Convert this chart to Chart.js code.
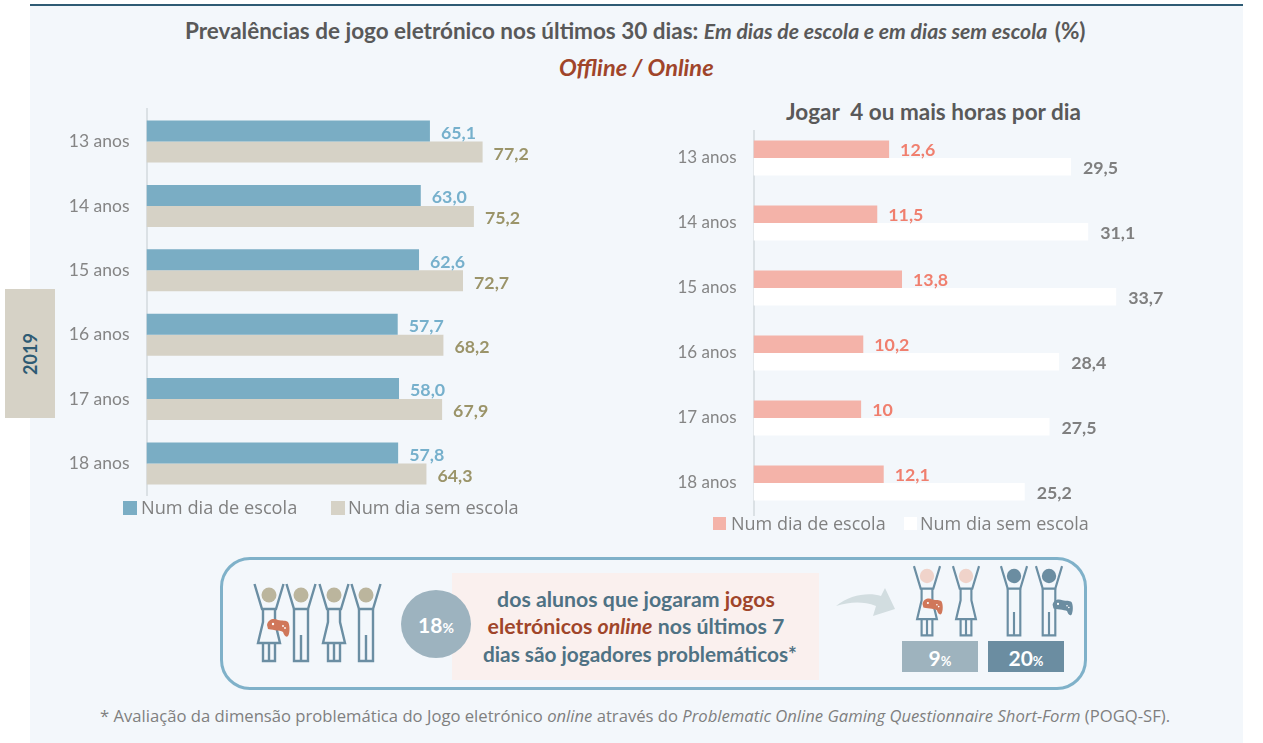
<!DOCTYPE html>
<html lang="pt"><head><meta charset="utf-8">
<script src="https://cdn.jsdelivr.net/npm/chart.js@4"></script>
<style>
html,body{margin:0;padding:0;background:#fff;width:1263px;height:743px;overflow:hidden;font-family:Lato,sans-serif}
#bg{position:absolute;left:30px;top:4px;width:1213px;height:739px;background:#f3f7fb;border-top:2px solid #2e5b74;box-sizing:border-box}
.t{position:absolute;white-space:nowrap;line-height:1}
canvas{position:absolute}
.sw{position:absolute}
</style></head><body>
<div id="bg"></div>
<div class="t" id="title" style="left:185px;top:20px;font-weight:700;font-size:22.5px;color:#595959">Prevalências de jogo eletrónico nos últimos 30 dias: <i style="font-size:21.2px">Em dias de escola e em dias sem escola</i> <span style="margin-left:2px">(%)</span></div>
<div class="t" style="left:559px;top:56px;font-weight:700;font-style:italic;font-size:23.6px;color:#a0452a">Offline / Online</div>
<div class="t" style="left:786px;top:101px;font-weight:700;font-size:22.5px;color:#595959">Jogar&nbsp; 4 ou mais horas por dia</div>
<div style="position:absolute;left:5px;top:289px;width:50px;height:129px;background:#d6d2c6"></div>
<div class="t" style="left:30px;top:353.5px;font-weight:700;font-size:18px;color:#2e5b74;transform:translate(-50%,-50%) rotate(-90deg)">2019</div>
<canvas id="cL" width="551" height="426" style="left:30px;top:89px"></canvas>
<canvas id="cR" width="544" height="431" style="left:640px;top:105px"></canvas>
<div style="position:absolute;left:751px;top:122px;width:5px;height:8px;background:#f3f7fb"></div>
<div id="legends"></div>

<div style="position:absolute;left:220px;top:557px;width:867px;height:133px;box-sizing:border-box;border:3px solid #7fb1c9;border-radius:30px"></div>
<div style="position:absolute;left:452px;top:573px;width:367px;height:107px;background:#faf0ee"></div>
<div style="position:absolute;left:401px;top:590px;width:70px;height:68px;border-radius:50%;background:#9db3bf"></div>
<div class="t" style="left:436px;top:624px;transform:translate(-50%,-50%);font-weight:700;font-size:21px;color:#fff">18<span style="font-size:14px">%</span></div>
<div class="t" style="left:636px;top:600px;transform:translate(-50%,-50%);font-weight:700;font-size:21.3px;color:#4f7284">dos alunos que jogaram <span style="color:#a0452a">jogos</span></div>
<div class="t" style="left:636px;top:627px;transform:translate(-50%,-50%);font-weight:700;font-size:21.3px;color:#a0452a">eletrónicos <i>online</i> <span style="color:#4f7284">nos últimos 7</span></div>
<div class="t" style="left:640px;top:654px;transform:translate(-50%,-50%);font-weight:700;font-size:20.8px;color:#4f7284">dias são jogadores problemáticos*</div>
<div style="position:absolute;left:902px;top:641px;width:76px;height:31px;background:#9eb3be"></div>
<div style="position:absolute;left:988px;top:641px;width:76px;height:31px;background:#6b8da1"></div>
<div class="t" style="left:940px;top:657px;transform:translate(-50%,-50%);font-weight:700;font-size:21px;color:#fff">9<span style="font-size:13px">%</span></div>
<div class="t" style="left:1026px;top:657px;transform:translate(-50%,-50%);font-weight:700;font-size:21px;color:#fff">20<span style="font-size:13px">%</span></div>
<div class="t" style="left:100px;top:708px;font-family:'Open Sans',sans-serif;font-size:16.65px;color:#7f7f7f">* Avaliação da dimensão problemática do Jogo eletrónico <i>online</i> através do <i>Problematic Online Gaming Questionnaire Short-Form</i> (POGQ-SF).</div>

<svg width="1263" height="743" style="position:absolute;left:0;top:0;pointer-events:none">
<defs>
<g id="arms" fill="none" stroke="#6b8ea3" stroke-width="2.4"><path d="M-14.5-11-7 14H7L14.5-11"/></g>
<g id="woman" fill="none" stroke="#6b8ea3" stroke-width="2.4"><use href="#arms"/><path d="M-6 14V27L-11 48H11L6 27V14M-6 48V66H6V48M0 48V66"/></g>
<g id="man" fill="none" stroke="#6b8ea3" stroke-width="2.4"><use href="#arms"/><path d="M-7 14V66H7V14M0 40V66"/></g>
<g id="pad"><path d="M-11-2C-10-8-4-9 0-7 4-6 8-7 10-5 12-2 12 6 10 9 8 11 6 8 5 5 2 3-8 3-10 2Z"/><g fill="#fff"><circle cx="-5" cy="-3" r="1.2"/><circle cx="5" cy="-1" r=".9"/><circle cx="7" cy="1" r=".9"/></g></g>
</defs>
<g transform="translate(269,595)"><use href="#woman"/><circle r="7.5" fill="#bbb59d"/><use href="#pad" transform="translate(9,32)" fill="#d0775a"/></g>
<g transform="translate(301,595)"><use href="#man"/><circle r="7.5" fill="#bbb59d"/></g>
<g transform="translate(334,595)"><use href="#woman"/><circle r="7.5" fill="#bbb59d"/></g>
<g transform="translate(366,595)"><use href="#man"/><circle r="7.5" fill="#bbb59d"/></g>
<g transform="translate(927,576) scale(.9)"><use href="#woman"/><circle r="8" fill="#f0d3ca"/><use href="#pad" transform="translate(6,33)" fill="#d0775a"/></g>
<g transform="translate(966,576) scale(.9)"><use href="#woman"/><circle r="8" fill="#f0d3ca"/></g>
<g transform="translate(1014,576) scale(.9)"><use href="#man"/><circle r="8" fill="#6b8da1"/></g>
<g transform="translate(1049,576) scale(.9)"><use href="#man"/><circle r="8" fill="#6b8da1"/><use href="#pad" transform="translate(15,34)" fill="#6b8da1"/></g>
<path d="M836 606C850 594 870 592 881 596L885 588 895 609 873 616 876 606C862 601 850 602 836 606Z" fill="#d2dde0"/>
</svg>

<script>
const categoriesLeft = ["13 anos","14 anos","15 anos","16 anos","17 anos","18 anos"];
const categoriesRight = ["13 anos","14 anos","15 anos","16 anos","17 anos","18 anos"];
const seriesNames = ["Num dia de escola","Num dia sem escola"];
const jogoEscola = [65.1,63.0,62.6,57.7,58.0,57.8];
const jogoSemEscola = [77.2,75.2,72.7,68.2,67.9,64.3];
const horasEscola = [12.6,11.5,13.8,10.2,10,12.1];
const horasSemEscola = [29.5,31.1,33.7,28.4,27.5,25.2];

Chart.defaults.font.family = "Lato, sans-serif";

const valueLabels = {
  id:'valueLabels',
  afterDatasetsDraw(chart,_,o){
    const c=chart.ctx;
    chart.data.datasets.forEach((ds,i)=>{
      chart.getDatasetMeta(i).data.forEach((el,j)=>{
        c.save();
        c.font='700 17.8px Lato, sans-serif';
        c.fillStyle=ds.labelColor;
        c.textAlign='left';c.textBaseline='middle';
        c.fillText(o.format(ds.data[j]),el.x+ds.labelGap,el.y+o.dy);
        c.restore();
      });
    });
  }
};
function make(id,cats,a,b,cols,labCols,gaps,opt){
  return new Chart(document.getElementById(id),{
    type:'bar',
    data:{labels:cats,datasets:[
      {label:seriesNames[0],data:a,backgroundColor:cols[0],labelColor:labCols[0],labelGap:gaps[0]},
      {label:seriesNames[1],data:b,backgroundColor:cols[1],labelColor:labCols[1],labelGap:gaps[1]}
    ]},
    plugins:[valueLabels],
    options:{
      indexAxis:'y',responsive:false,animation:false,devicePixelRatio:1,
      categoryPercentage:opt.cat,barPercentage:1,
      layout:{padding:{top:opt.padT,bottom:opt.padB,left:0,right:0}},
      plugins:{legend:{display:false},tooltip:{enabled:false},valueLabels:{format:opt.format,dy:opt.dy}},
      scales:{
        x:{display:false,min:0,max:opt.max},
        y:{
          afterFit(s){s.width=opt.axisW;},
          grid:{drawOnChartArea:false,drawTicks:true,tickLength:opt.tick,tickColor:'transparent'},
          border:{color:'#dbe1e5',width:2},
          ticks:{color:'#858585',padding:0,font:{size:opt.fs}}
        }
      }
    }
  });
}
make('cL',categoriesLeft,jogoEscola,jogoSemEscola,['#7aadc4','#d6d2c6'],['#76b0cc','#9b9469'],[11,11],
  {cat:.652,padT:20.3,padB:19.3,dy:2,max:99.8,axisW:116.5,tick:17,fs:17.5,format:v=>v.toFixed(1).replace('.',',')});
make('cR',categoriesRight,horasEscola,horasSemEscola,['#f4b3a9','#ffffff'],['#f07f6e','#7f7f7f'],[11,12],
  {cat:.54,padT:20.5,padB:20.5,dy:1,max:40,axisW:113.5,tick:17,fs:17,format:v=>String(v).replace('.',',')});

const legendSpec=[
  {x:[123,331],tx:[141,348],y:507.5,c:['#7aadc4','#d6d2c6'],s:14,fs:18.2},
  {x:[713,904],tx:[731,920],y:523.5,c:['#f4b3a9','#ffffff'],s:13,fs:18}
];
const L=document.getElementById('legends');
legendSpec.forEach(g=>seriesNames.forEach((n,i)=>{
  const b=document.createElement('div');b.className='sw';
  b.style.cssText=`left:${g.x[i]}px;top:${g.y-g.s/2}px;width:${g.s}px;height:${g.s}px;background:${g.c[i]}`;
  const t=document.createElement('div');t.className='t';t.textContent=n;
  t.style.cssText=`left:${g.tx[i]}px;top:${g.y-10}px;font-family:'Open Sans',sans-serif;font-size:${g.fs}px;color:#808080`;
  L.append(b,t);
}));
</script>
</body></html>
